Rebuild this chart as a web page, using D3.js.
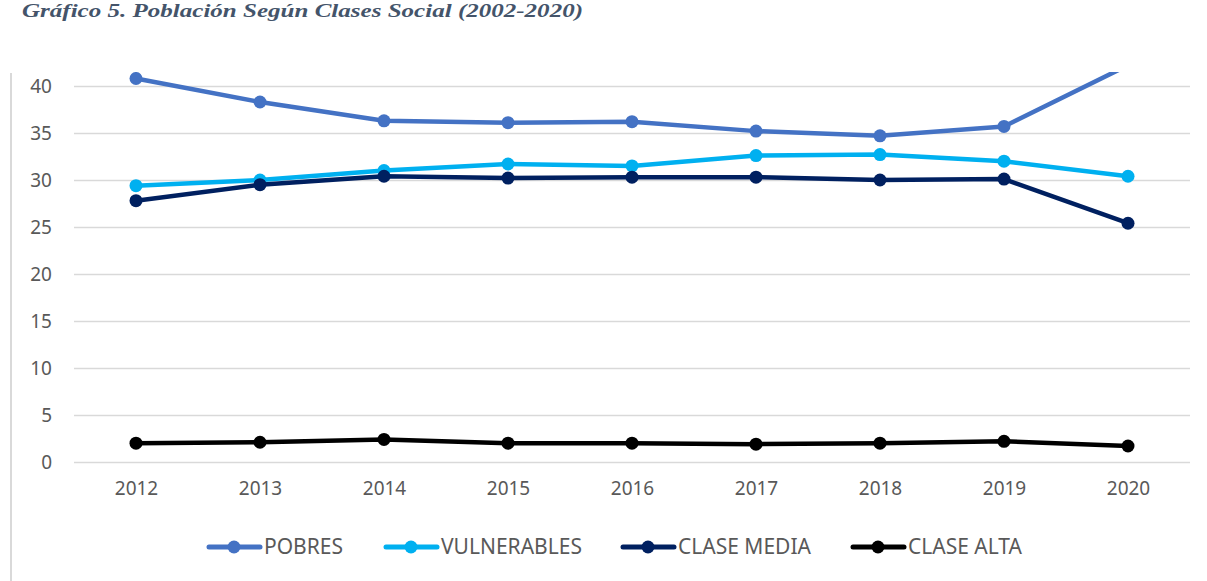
<!DOCTYPE html>
<html>
<head>
<meta charset="utf-8">
<script src="https://cdn.jsdelivr.net/npm/d3@7"></script>
<style>
body{margin:0;background:#fff;}
svg{display:block;}
</style>
</head>
<body>
<div id="chart"></div>
<script>
let years=["2012","2013","2014","2015","2016","2017","2018","2019","2020"];
let pobres=[40.8,38.3,36.3,36.1,36.2,35.2,34.7,35.7,42.2];
let vulnerables=[29.4,30.0,31.0,31.7,31.5,32.6,32.7,32.0,30.4];
let claseMedia=[27.8,29.5,30.4,30.2,30.3,30.3,30.0,30.1,25.4];
let claseAlta=[2.0,2.1,2.4,2.0,2.0,1.9,2.0,2.2,1.7];
let yTicks=[0,5,10,15,20,25,30,35,40];
let seriesNames=["POBRES","VULNERABLES","CLASE MEDIA","CLASE ALTA"];
let seriesColors=["#4472C4","#00B0F0","#002060","#000000"];

let series=[pobres,vulnerables,claseMedia,claseAlta].map(function(v,i){
    return {name:seriesNames[i],color:seriesColors[i],values:v};
});

let width=1207, height=581;
let padLeft=74, padRight=1190, padTop=86, padBottom=462;

let chart=d3.select("#chart")
.append("svg")
.attr("width",width)
.attr("height",height);

// title
chart.append("text")
.text("Gráfico 5. Población Según Clases Social (2002-2020)")
.attr("x",22)
.attr("y",17)
.attr("textLength",561)
.attr("lengthAdjust","spacingAndGlyphs")
.style("font-family","'Liberation Serif','Times New Roman',serif")
.style("font-weight","bold")
.style("font-style","italic")
.style("font-size","19px")
.style("fill","#44546A");

// left frame edge
chart.append("line")
.attr("x1",11).attr("x2",11)
.attr("y1",73).attr("y2",height)
.attr("stroke","#D9D9D9")
.attr("stroke-width",2);

let xscale=d3.scalePoint()
.domain(years)
.range([padLeft,padRight])
.padding(0.5);

let yscale=d3.scaleLinear()
.domain([0,40])
.range([padBottom,padTop]);

// gridlines
let yAxis=d3.axisLeft(yscale).tickValues(yTicks).tickSize(-(padRight-padLeft)).tickPadding(22);
let gy=chart.append("g")
.attr("class","yaxis")
.attr("transform","translate("+padLeft+",0)")
.call(yAxis);
gy.select(".domain").remove();
gy.selectAll(".tick line").attr("stroke","#D9D9D9").attr("stroke-width",1.5);
gy.selectAll(".tick text")
.style("font-family","Noto Sans")
.style("font-size","19px")
.style("fill","#595959");

let xAxis=d3.axisBottom(xscale).tickSize(0).tickPadding(20);
let gx=chart.append("g")
.attr("class","xaxis")
.attr("transform","translate(0,"+padBottom+")")
.call(xAxis);
gx.select(".domain").remove();
gx.selectAll(".tick text")
.style("font-family","Noto Sans")
.style("font-size","19px")
.style("fill","#595959");

chart.append("clipPath")
.attr("id","plotclip")
.append("rect")
.attr("x",0).attr("y",72)
.attr("width",width).attr("height",height-72);

let plot=chart.append("g").attr("clip-path","url(#plotclip)");

let line=d3.line()
.x(function(d,i){return xscale(years[i]);})
.y(function(d){return yscale(d);});

let groups=plot.selectAll("g.series")
.data(series)
.enter()
.append("g")
.attr("class","series");

groups.append("path")
.attr("d",function(d){return line(d.values);})
.attr("fill","none")
.attr("stroke",function(d){return d.color;})
.attr("stroke-width",4.5)
.attr("stroke-linejoin","round");

groups.selectAll("circle")
.data(function(d){return d.values.map(function(v,i){return {v:v,i:i,color:d.color};});})
.enter()
.append("circle")
.attr("cx",function(d){return xscale(years[d.i]);})
.attr("cy",function(d){return yscale(d.v);})
.attr("r",6.5)
.attr("fill",function(d){return d.color;});

// legend
let legendX=[207,384,621,851];
let legend=chart.selectAll("g.legend")
.data(series)
.enter()
.append("g")
.attr("class","legend")
.attr("transform",function(d,i){return "translate("+legendX[i]+",547)";});

legend.append("line")
.attr("x1",2).attr("x2",53)
.attr("y1",0).attr("y2",0)
.attr("stroke",function(d){return d.color;})
.attr("stroke-width",5)
.attr("stroke-linecap","round");

legend.append("circle")
.attr("cx",27).attr("cy",0).attr("r",6.5)
.attr("fill",function(d){return d.color;});

legend.append("text")
.text(function(d){return d.name;})
.attr("x",57)
.attr("y",7)
.style("font-family","Noto Sans")
.style("font-size","21px")
.style("fill","#595959");
</script>
</body>
</html>
